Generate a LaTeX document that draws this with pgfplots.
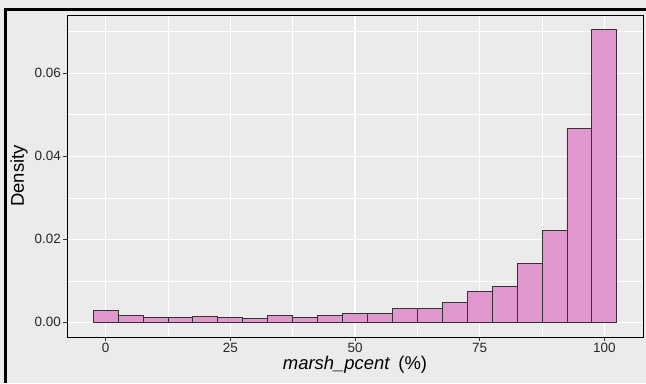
\documentclass[border=0pt]{standalone}
\usepackage{pgfplots}
\pgfplotsset{compat=1.18}
\usepackage{fontspec}
\setmainfont{Liberation Sans}
\definecolor{bg}{RGB}{235,235,235}
\definecolor{barfill}{RGB}{224,151,206}
\definecolor{tickc}{RGB}{51,51,51}
\begin{document}
\begin{tikzpicture}[x=1bp,y=1bp]
\useasboundingbox (0,0) rectangle (646,383);
\fill[bg] (0,0) rectangle (646,383);
\draw[black, line width=3bp] (5.5,0) -- (5.5,373.5) -- (646,373.5);
\begin{axis}[
  at={(67bp,46bp)}, anchor=south west,
  scale only axis, width=576bp, height=322bp,
  xmin=-7.75, xmax=107.75, ymin=-0.003525, ymax=0.074025,
  axis background/.style={fill=bg},
  axis line style={black, line width=0.9bp},
  xtick={0,25,50,75,100},
  ytick={0,0.02,0.04,0.06},
  minor xtick={12.5,37.5,62.5,87.5},
  minor ytick={0.01,0.03,0.05,0.07},
  grid=both,
  major grid style={white, line width=1.1bp},
  minor grid style={white, line width=0.55bp},
  tick align=outside, tick pos=left,
  major tick length=4bp, minor tick length=0pt,
  tick style={tickc, line width=0.8bp},
  every tick label/.append style={font=\fontsize{13.5}{15}\selectfont, text=black!85, inner sep=0pt},
  xticklabel style={yshift=-2bp},
  yticklabel style={xshift=-2bp},
  /pgf/number format/assume math mode=true,
  yticklabel style={/pgf/number format/.cd, fixed, fixed zerofill, precision=2},
  scaled y ticks=false,
  xlabel={\textit{marsh\_pcent}\hspace{0.45em}(\%)},
  ylabel={Density},
  label style={font=\fontsize{18.5}{20}\selectfont, inner sep=0pt},
  x label style={at={(axis description cs:0.5,-0.085)}, anchor=center},
  y label style={at={(axis description cs:-0.0833,0.5)}, anchor=center, rotate=0},
  clip=false,
]
\addplot[ybar, bar width=5, bar shift=0pt, fill=barfill, draw=tickc, line width=0.9bp] coordinates {
(0,0.0028) (5,0.0017) (10,0.0011) (15,0.00128) (20,0.00136) (25,0.00128) (30,0.00088)
(35,0.0017) (40,0.00128) (45,0.00155) (50,0.00205) (55,0.00225) (60,0.0033) (65,0.00345)
(70,0.00474) (75,0.0074) (80,0.00867) (85,0.01414) (90,0.0221) (95,0.04675) (100,0.0705)
};
\end{axis}
\end{tikzpicture}
\end{document}
